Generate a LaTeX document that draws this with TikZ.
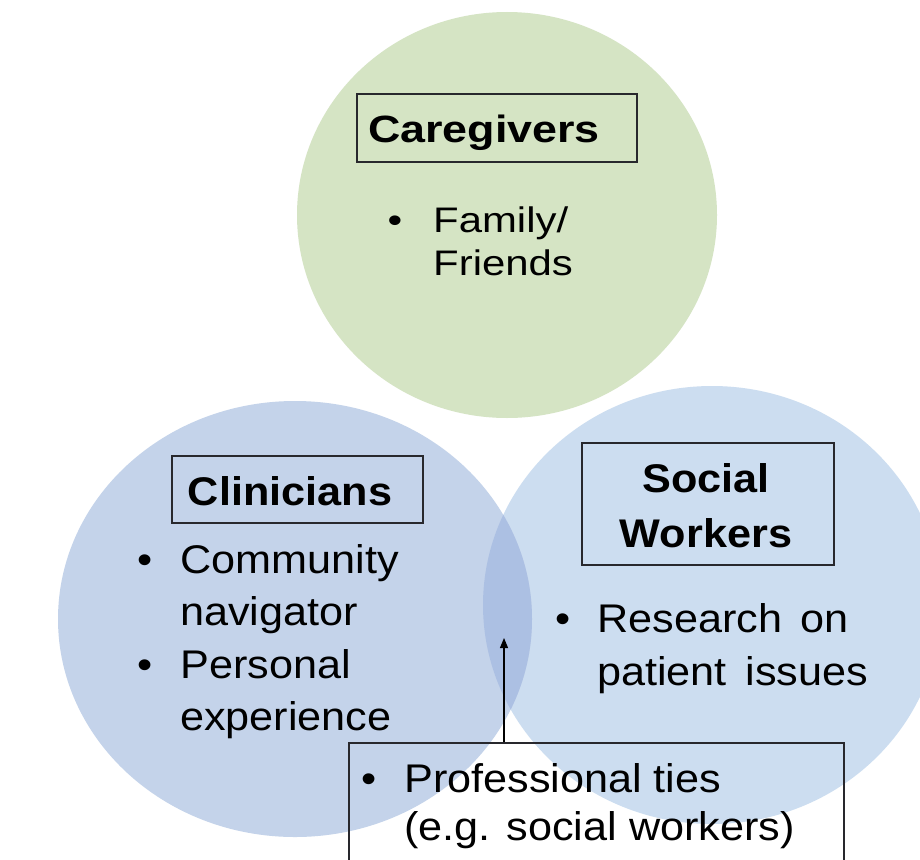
\documentclass[tikz,border=0pt]{standalone}
\usepackage{fontspec}
\setmainfont{Liberation Sans}
\newfontfamily\bodyf{Liberation Sans}[FakeStretch=1.08]
\newfontfamily\cgf{Liberation Sans}[FakeStretch=1.18]
\usetikzlibrary{arrows.meta}
\definecolor{greenc}{RGB}{213,228,196}
\definecolor{leftc}{RGB}{196,211,234}
\definecolor{rightc}{RGB}{204,221,240}
\definecolor{lensc}{RGB}{172,192,227}
\definecolor{boxc}{RGB}{40,40,45}
\begin{document}
\begin{tikzpicture}[x=1pt,y=-1pt,
  boxframe/.style={draw=boxc, line width=1.2pt, inner sep=0pt, fill=none},
  hdr/.style={anchor=base, inner sep=0pt, font=\bodyf\bfseries\fontsize{40}{47}\selectfont},
  item/.style={anchor=base west, inner sep=0pt, font=\bodyf\fontsize{40}{47}\selectfont},
  bul/.style={anchor=base, inner sep=0pt, font=\bodyf\fontsize{40}{47}\selectfont},
  cghdr/.style={anchor=base, inner sep=0pt, font=\cgf\bfseries\fontsize{38}{45}\selectfont},
  cgitem/.style={anchor=base west, inner sep=0pt, font=\cgf\fontsize{35.5}{42}\selectfont},
  cgbul/.style={anchor=base, inner sep=0pt, font=\cgf\fontsize{35.5}{42}\selectfont},
  conn/.style={draw=black, line width=1.1pt, -{Triangle[width=8pt,length=10pt]}}
]
\clip (0,0) rectangle (920,859);
\fill[white] (0,0) rectangle (920,859);

% circles
\fill[greenc] (507,215) ellipse [x radius=210pt, y radius=203pt];
\fill[rightc] (712,605) ellipse [x radius=229pt, y radius=219pt];
\fill[leftc] (295,619) ellipse [x radius=237pt, y radius=218pt];
\begin{scope}
  \clip (295,619) ellipse [x radius=237pt, y radius=218pt];
  \fill[lensc] (712,605) ellipse [x radius=229pt, y radius=219pt];
\end{scope}

% Caregivers
\node[boxframe, minimum width=280pt, minimum height=68pt] (cgbox) at (497,128) {};
\node[cghdr] (cgt) at (484,142) {Caregivers};
\node[cgbul] (cgb1) at (395,232) {•};
\node[cgitem] (cgl1) at (433,232) {Family/};
\node[cgitem] (cgl2) at (433,275) {Friends};

% Clinicians
\node[boxframe, minimum width=251pt, minimum height=67pt] (clbox) at (297.5,489.5) {};
\node[hdr] (clt) at (290,505) {Clinicians};
\node[bul] (clb1) at (145,573) {•};
\node[item] (cll1) at (180,573) {Community};
\node[item] (cll2) at (180,625) {navigator};
\node[bul] (clb2) at (145,678) {•};
\node[item] (cll3) at (180,678) {Personal};
\node[item] (cll4) at (180,730) {experience};

% Social Workers
\node[boxframe, minimum width=252pt, minimum height=122pt] (swbox) at (708,504) {};
\node[hdr] (swt1) at (706,492) {Social};
\node[hdr] (swt2) at (706,547) {Workers};
\node[bul] (swb1) at (563,632) {•};
\node[item] (swl1) at (597,632) {\makebox[251pt][s]{Research on}};
\node[item] (swl2) at (597,685) {\makebox[271pt][s]{patient issues}};

% Professional ties
\node[boxframe, minimum width=495pt, minimum height=140pt] (ptbox) at (596.5,813) {};
\node[bul] (ptb1) at (369,792) {•};
\node[item] (ptl1) at (404,792) {Professional ties};
\node[item] (ptl2) at (404,840) {(e.g. social workers)};

% arrow into overlap
\coordinate (lens) at (504,638);
\draw[conn] (ptbox.north -| lens) -- (lens);
\end{tikzpicture}
\end{document}
